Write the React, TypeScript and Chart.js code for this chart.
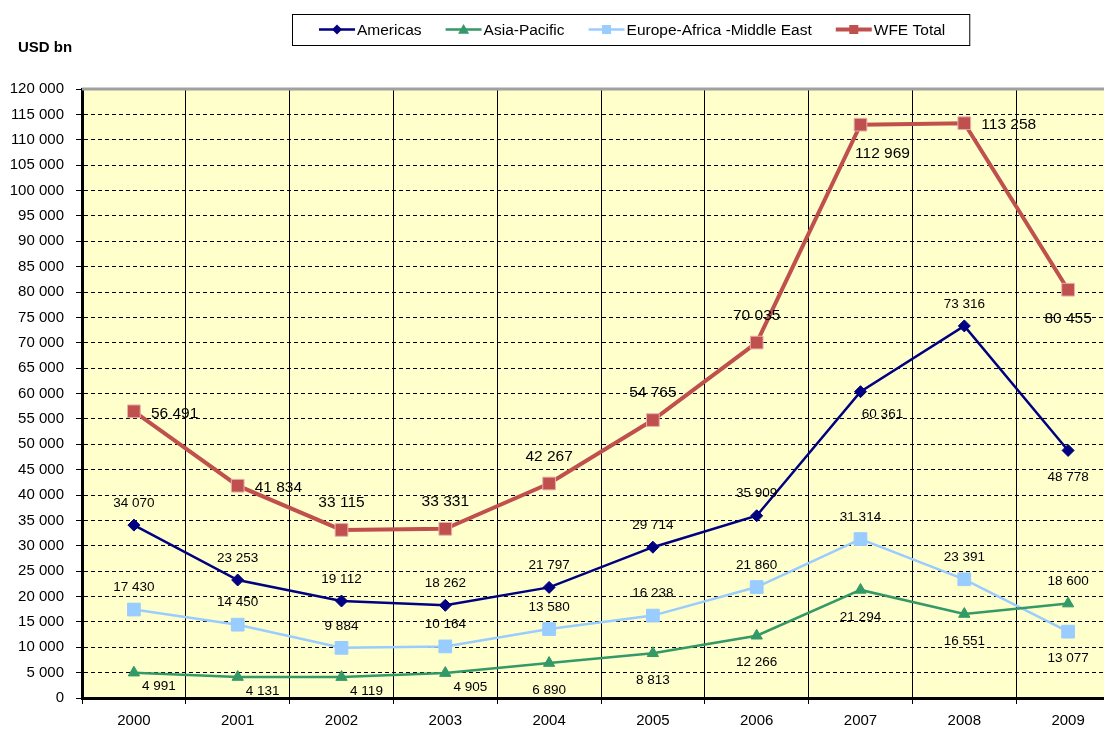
import React, { useEffect, useRef } from 'react';
import { Chart, registerables } from 'chart.js';

Chart.register(...registerables);

// ---------- data ----------
const years = ['2000', '2001', '2002', '2003', '2004', '2005', '2006', '2007', '2008', '2009'];
const americas = [34070, 23253, 19112, 18262, 21797, 29714, 35909, 60361, 73316, 48778];
const asiaPacific = [4991, 4131, 4119, 4905, 6890, 8813, 12266, 21294, 16551, 18600];
const europeAfricaMiddleEast = [17430, 14450, 9884, 10164, 13580, 16238, 21860, 31314, 23391, 13077];
const wfeTotal = [56491, 41834, 33115, 33331, 42267, 54765, 70035, 112969, 113258, 80455];
const seriesNames = ['Americas', 'Asia-Pacific', 'Europe-Africa -Middle East', 'WFE Total'];
const yMin = 0;
const yMax = 120000;
const yStep = 5000;
const yTitle = 'USD bn';

// label placement codes per series (a = above, b = below, r = right, br / rb = below-right)
const americasLabelPos = ['a', 'a', 'a', 'a', 'a', 'a', 'a', 'br', 'a', 'b'];
const asiaLabelPos = ['rb', 'rb', 'rb', 'rb', 'b', 'b', 'b', 'b', 'b', 'a'];
const eameLabelPos = ['a', 'a', 'a', 'a', 'a', 'a', 'a', 'a', 'a', 'b'];
const wfeLabelPos = ['r', 'r', 'a', 'a', 'a', 'a', 'a', 'br', 'r', 'b'];

const FONT = '"Liberation Sans", Arial, Helvetica, sans-serif';

const fmt = (v: number) => String(Math.round(v)).replace(/\B(?=(\d{3})+(?!\d))/g, ' ');

type Style = {
  color: string;
  marker: 'diamond' | 'triangle' | 'square';
  markerBorder: string;
  lineWidth: number;
  legendSize: number;
};

const styles: Style[] = [
  { color: '#000080', marker: 'diamond', markerBorder: '#000080', lineWidth: 2.5, legendSize: 5 },
  { color: '#339966', marker: 'triangle', markerBorder: '#339966', lineWidth: 2.5, legendSize: 5.5 },
  { color: '#99CCFF', marker: 'square', markerBorder: '#99CCFF', lineWidth: 2.5, legendSize: 4.5 },
  { color: '#C0504D', marker: 'square', markerBorder: '#E6B0AE', lineWidth: 4, legendSize: 4.5 },
];

const labelPositions = [americasLabelPos, asiaLabelPos, eameLabelPos, wfeLabelPos];

function drawMarker(ctx: CanvasRenderingContext2D, kind: string, x: number, y: number, s: number, fill: string) {
  ctx.save();
  ctx.fillStyle = fill;
  ctx.beginPath();
  if (kind === 'diamond') {
    ctx.moveTo(x - s, y);
    ctx.lineTo(x, y - s);
    ctx.lineTo(x + s, y);
    ctx.lineTo(x, y + s);
  } else if (kind === 'triangle') {
    ctx.moveTo(x, y - s);
    ctx.lineTo(x + s, y + s * 0.75);
    ctx.lineTo(x - s, y + s * 0.75);
  } else {
    ctx.rect(x - s, y - s, 2 * s, 2 * s);
  }
  ctx.closePath();
  ctx.fill();
  ctx.restore();
}

const decorPlugin = {
  id: 'decor',
  beforeDraw(chart: any) {
    const { ctx, chartArea } = chart;
    ctx.save();
    ctx.fillStyle = '#FFFFCC';
    ctx.fillRect(chartArea.left, chartArea.top, chartArea.right - chartArea.left, chartArea.bottom - chartArea.top);
    ctx.restore();
  },
  beforeDatasetsDraw(chart: any) {
    const { ctx, chartArea } = chart;
    ctx.save();
    ctx.strokeStyle = '#A0A0A0';
    ctx.lineWidth = 3;
    ctx.beginPath();
    ctx.moveTo(chartArea.left, chartArea.top);
    ctx.lineTo(chartArea.right, chartArea.top);
    ctx.stroke();
    ctx.restore();
  },
  afterDatasetsDraw(chart: any) {
    const { ctx } = chart;
    ctx.save();
    ctx.fillStyle = '#000';
    ctx.textBaseline = 'middle';
    chart.data.datasets.forEach((ds: any, i: number) => {
      const meta = chart.getDatasetMeta(i);
      const big = i === 3;
      ctx.font = `${big ? 15.5 : 13.5}px ${FONT}`;
      meta.data.forEach((pt: any, j: number) => {
        const text = fmt(ds.data[j]);
        const pos = labelPositions[i][j];
        let x = pt.x;
        let y = pt.y;
        ctx.textAlign = 'center';
        if (pos === 'a') {
          y -= big ? 27 : 22;
        } else if (pos === 'b') {
          y += big ? 29 : 27;
        } else if (pos === 'r') {
          ctx.textAlign = 'left';
          x += 17;
          y += 2;
        } else if (pos === 'br') {
          x += 22;
          y += big ? 29 : 23;
        } else if (pos === 'rb') {
          x += 25;
          y += 14;
        }
        ctx.fillText(text, x, y);
      });
    });
    ctx.restore();
  },
  afterDraw(chart: any) {
    const { ctx } = chart;
    ctx.save();
    // axis title
    ctx.fillStyle = '#000';
    ctx.font = `bold 15px ${FONT}`;
    ctx.textAlign = 'left';
    ctx.textBaseline = 'middle';
    ctx.fillText(yTitle, 18, 48);

    // legend
    const boxLeft = 292;
    const boxTop = 14;
    const boxH = 31;
    const cy = boxTop + boxH / 2;
    ctx.font = `15.5px ${FONT}`;
    let x = boxLeft + 27;
    chart.data.datasets.forEach((ds: any, i: number) => {
      const st = styles[i];
      ctx.strokeStyle = st.color;
      ctx.lineWidth = st.lineWidth;
      ctx.beginPath();
      ctx.moveTo(x, cy);
      ctx.lineTo(x + 36, cy);
      ctx.stroke();
      drawMarker(ctx, st.marker, x + 18, cy, st.legendSize, st.color);
      ctx.fillStyle = '#000';
      ctx.textAlign = 'left';
      ctx.fillText(ds.label, x + 38, cy + 1);
      x += 38 + ctx.measureText(ds.label).width + 24;
    });
    ctx.strokeStyle = '#000';
    ctx.lineWidth = 1;
    ctx.strokeRect(boxLeft + 0.5, boxTop + 0.5, x - boxLeft, boxH);
    ctx.restore();
  },
};

function makeDataset(label: string, data: number[], st: Style) {
  const pointStyle = st.marker === 'diamond' ? 'rectRot' : st.marker === 'triangle' ? 'triangle' : 'rect';
  const radius = st.marker === 'diamond' ? 6 : st.marker === 'triangle' ? 6.5 : 9;
  return {
    label,
    data,
    borderColor: st.color,
    backgroundColor: st.color,
    borderWidth: st.lineWidth,
    pointStyle,
    pointRadius: radius,
    pointHoverRadius: radius,
    pointBackgroundColor: st.color,
    pointBorderColor: st.markerBorder,
    pointBorderWidth: 1,
    tension: 0,
    fill: false,
    clip: false as any,
  };
}

export default function App() {
  const ref = useRef<HTMLCanvasElement | null>(null);

  useEffect(() => {
    if (!ref.current) return;
    Chart.defaults.font.family = FONT;
    const chart = new Chart(ref.current, {
      type: 'line',
      data: {
        labels: years,
        datasets: [
          makeDataset(seriesNames[0], americas, styles[0]),
          makeDataset(seriesNames[1], asiaPacific, styles[1]),
          makeDataset(seriesNames[2], europeAfricaMiddleEast, styles[2]),
          makeDataset(seriesNames[3], wfeTotal, styles[3]),
        ],
      },
      options: {
        animation: false,
        responsive: false,
        devicePixelRatio: 1,
        layout: { padding: { top: 89, left: 0, right: 0, bottom: 0 } },
        plugins: {
          legend: { display: false },
          tooltip: { enabled: false },
          title: { display: false },
        },
        scales: {
          x: {
            type: 'category',
            offset: true,
            grid: {
              offset: true,
              color: '#000',
              lineWidth: 1,
              drawTicks: true,
              tickLength: 6,
              tickColor: '#000',
              tickWidth: 1,
            },
            border: { display: true, color: '#000', width: 3 },
            ticks: {
              color: '#000',
              font: { family: FONT, size: 15 },
              padding: 8,
              maxRotation: 0,
              autoSkip: false,
            },
            afterFit: (s: any) => {
              s.height = 33;
            },
          },
          y: {
            min: yMin,
            max: yMax,
            grid: {
              color: (c: any) => (c.tick && c.tick.value === yMax ? 'rgba(0,0,0,0)' : '#000'),
              lineWidth: 1,
              tickLength: 6,
              tickColor: '#000',
              tickWidth: 1,
            },
            border: { display: true, color: '#000', width: 3, dash: [4, 3] },
            ticks: {
              stepSize: yStep,
              color: '#000',
              font: { family: FONT, size: 15 },
              padding: 12,
              callback: (v: any) => fmt(Number(v)),
            },
            afterFit: (s: any) => {
              s.width = 82;
            },
          },
        },
      },
      plugins: [decorPlugin],
    });
    return () => chart.destroy();
  }, []);

  return (
    <div
      style={{
        position: 'fixed',
        left: 0,
        top: 0,
        width: 1104,
        height: 731,
        overflow: 'hidden',
        background: '#fff',
      }}
    >
      <canvas ref={ref} width={1130} height={731} style={{ display: 'block', width: 1130, height: 731 }} />
    </div>
  );
}
